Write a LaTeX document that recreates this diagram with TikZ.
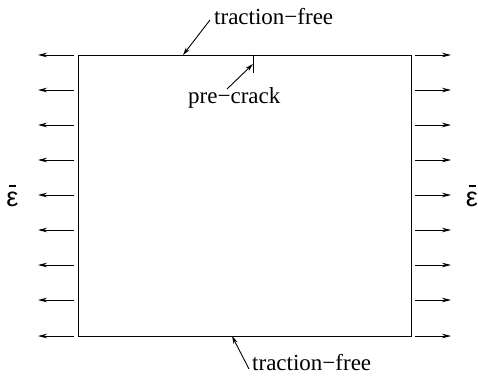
\documentclass[tikz,border=0pt]{standalone}
\usepackage{fontspec}
\setmainfont{Liberation Serif}
\newfontfamily\epsfont{Liberation Sans}
\usetikzlibrary{arrows.meta, positioning}
\tikzset{
    plate/.style={
        rectangle, draw=black, line width=0.9pt,
        minimum width=333pt, minimum height=281pt,
        inner sep=0pt
    },
    load/.style={draw=black, line width=0.9pt, -{Stealth[length=9pt,width=4.5pt]}},
    pointer/.style={draw=black, line width=0.9pt, -{Stealth[length=8pt,width=4.5pt]}},
    label/.style={inner sep=0pt, font=\fontsize{23}{26}\selectfont},
    strain/.style={inner sep=0pt, font=\epsfont\fontsize{27}{30}\selectfont}
}
\newcommand{\epsbar}{\ooalign{ε\cr\hidewidth\raisebox{0.72em}{\rule{0.26em}{0.04em}}\hidewidth\cr}}

\begin{document}
\begin{tikzpicture}[x=1pt,y=-1pt]
\useasboundingbox (0,0) rectangle (478,379);

% plate
\node[plate] (plate) at (244.5,195.5) {};

% applied strain on both sides
\foreach \i/\y in {1/55,2/90,3/125,4/160,5/195,6/230,7/265,8/300,9/336}{
    \coordinate (la\i) at (74,\y);
    \coordinate (lb\i) at (38,\y);
    \coordinate (ra\i) at (415,\y);
    \coordinate (rb\i) at (451,\y);
    \draw[load] (la\i) -- (lb\i);
    \draw[load] (ra\i) -- (rb\i);
}
\node[strain, anchor=base] (epsl) at (12.5,206) {\epsbar};
\node[strain, anchor=base] (epsr) at (472,206) {\epsbar};

% pre-crack
\coordinate (cracktop) at (253,55);
\coordinate (cracktip) at (253,73);
\draw[line width=0.9pt] (cracktop) -- (cracktip);
\node[label, anchor=base west] (cracklbl) at (188,104) {pre−crack};
\coordinate (cracktail) at (227,89);
\coordinate (crackhead) at (253,64);
\draw[pointer] (cracktail) -- (crackhead);

% traction-free edges
\node[label, anchor=base west] (toplbl) at (214,25) {traction−free};
\coordinate (toptail) at (210,20);
\coordinate (tophead) at (183,55);
\draw[pointer] (toptail) -- (tophead);

\node[label, anchor=base west] (botlbl) at (252,370) {traction−free};
\coordinate (bottail) at (249,369);
\coordinate (bothead) at (232,336);
\draw[pointer] (bottail) -- (bothead);

\end{tikzpicture}
\end{document}
